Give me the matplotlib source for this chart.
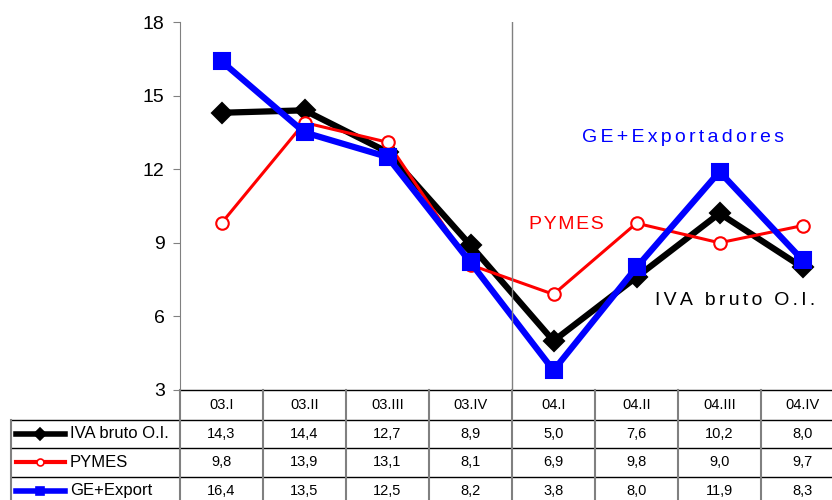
import matplotlib
matplotlib.use("Agg")
import matplotlib.pyplot as plt
import matplotlib.transforms as mtransforms

plt.rcParams['font.family'] = ['Liberation Sans', 'DejaVu Sans']

quarters = ["03.I", "03.II", "03.III", "03.IV", "04.I", "04.II", "04.III", "04.IV"]
iva_bruto = [14.3, 14.4, 12.7, 8.9, 5.0, 7.6, 10.2, 8.0]
pymes = [9.8, 13.9, 13.1, 8.1, 6.9, 9.8, 9.0, 9.7]
ge_export = [16.4, 13.5, 12.5, 8.2, 3.8, 8.0, 11.9, 8.3]
iva_txt = ["14,3", "14,4", "12,7", "8,9", "5,0", "7,6", "10,2", "8,0"]
pymes_txt = ["9,8", "13,9", "13,1", "8,1", "6,9", "9,8", "9,0", "9,7"]
ge_txt = ["16,4", "13,5", "12,5", "8,2", "3,8", "8,0", "11,9", "8,3"]
yticks = [3, 6, 9, 12, 15, 18]


def spaced(s, n):
    # wide letter spacing like the original labels
    return ("\u200a" * n).join(s)


W, H = 832, 500
fig = plt.figure(figsize=(W / 100, H / 100), dpi=100)

# pixel-coordinate helper axes for the table
ax_t = fig.add_axes([0, 0, 1, 1])
ax_t.set_xlim(0, W)
ax_t.set_ylim(H, 0)
ax_t.axis("off")

x0, ytop, ybot, colw = 180, 22, 390, 83
ax = fig.add_axes([x0 / W, (H - ybot) / H, 8 * colw / W, (ybot - ytop) / H])
ax.patch.set_alpha(0)
xs = list(range(len(quarters)))

series = [
    (iva_bruto, "black", "D", 10, 4.5, "black", "IVA bruto O.I.", iva_txt),
    (pymes, "#ff0000", "o", 9, 2.2, "white", "PYMES", pymes_txt),
    (ge_export, "#0000ff", "s", 11, 4.5, "#0000ff", "GE+Export", ge_txt),
]
for vals, c, m, ms, lw, fc, lab, txt in series:
    ax.plot(xs, vals, color=c, marker=m, ms=ms, lw=lw, mfc=fc, mec=c,
            mew=1.5, clip_on=False)

ax.set_xlim(-0.5, 7.5)
ax.set_ylim(3, 18)
ax.set_yticks(yticks)
ax.set_xticks([])
ax.tick_params(axis="y", labelsize=14, length=5, color="#808080", pad=6)
for s in ["top", "right", "bottom"]:
    ax.spines[s].set_visible(False)
ax.spines["left"].set_color("#808080")
ax.axvline(3.5, color="#808080", lw=1)

# series annotations
ax.text(5.56, 13.3, spaced("GE+Exportadores", 2), color="#0000ff",
        fontsize=14, ha="center", va="center")
ax.text(4.15, 9.75, spaced("PYMES", 1), color="#ff0000", fontsize=14,
        ha="center", va="center")
ax.text(6.19, 6.65, spaced("IVA bruto O.I.", 2), color="black",
        fontsize=14, ha="center", va="center")

# data table
tr = mtransforms.blended_transform_factory(ax.transData, ax_t.transData)
rows_y = [390, 420, 448, 476.5, 505]
grey = "#808080"
ax_t.plot([x0, W], [rows_y[0], rows_y[0]], color="black", lw=1)
for y in rows_y[1:4]:
    ax_t.plot([11, W], [y, y], color="black", lw=1)
ax_t.plot([11, 11], [rows_y[1], H], color=grey, lw=1.5)
for i in range(len(quarters) + 1):
    ax_t.plot([i - 0.5, i - 0.5], [rows_y[0], H], color=grey, lw=1.5,
              transform=tr, clip_on=False)

for i, q in enumerate(quarters):
    ax_t.text(i, (rows_y[0] + rows_y[1]) / 2, q, transform=tr, ha="center",
              va="center", fontsize=10.5)
for r, (vals, c, m, ms, lw, fc, lab, txt) in enumerate(series):
    yc = (rows_y[r + 1] + rows_y[r + 2]) / 2
    for i, t in enumerate(txt):
        ax_t.text(i, yc, t, transform=tr, ha="center", va="center", fontsize=10.5)
    ax_t.plot([16, 65], [yc, yc], color=c, lw=4 if r != 1 else 3)
    ax_t.plot([40], [yc], color=c, marker=m, ms=6 if r != 1 else 5, mfc=fc,
              mec=c, mew=1.2)
    ax_t.text(70, yc, lab, ha="left", va="center", fontsize=12)

fig.savefig("out.png", dpi=100)
